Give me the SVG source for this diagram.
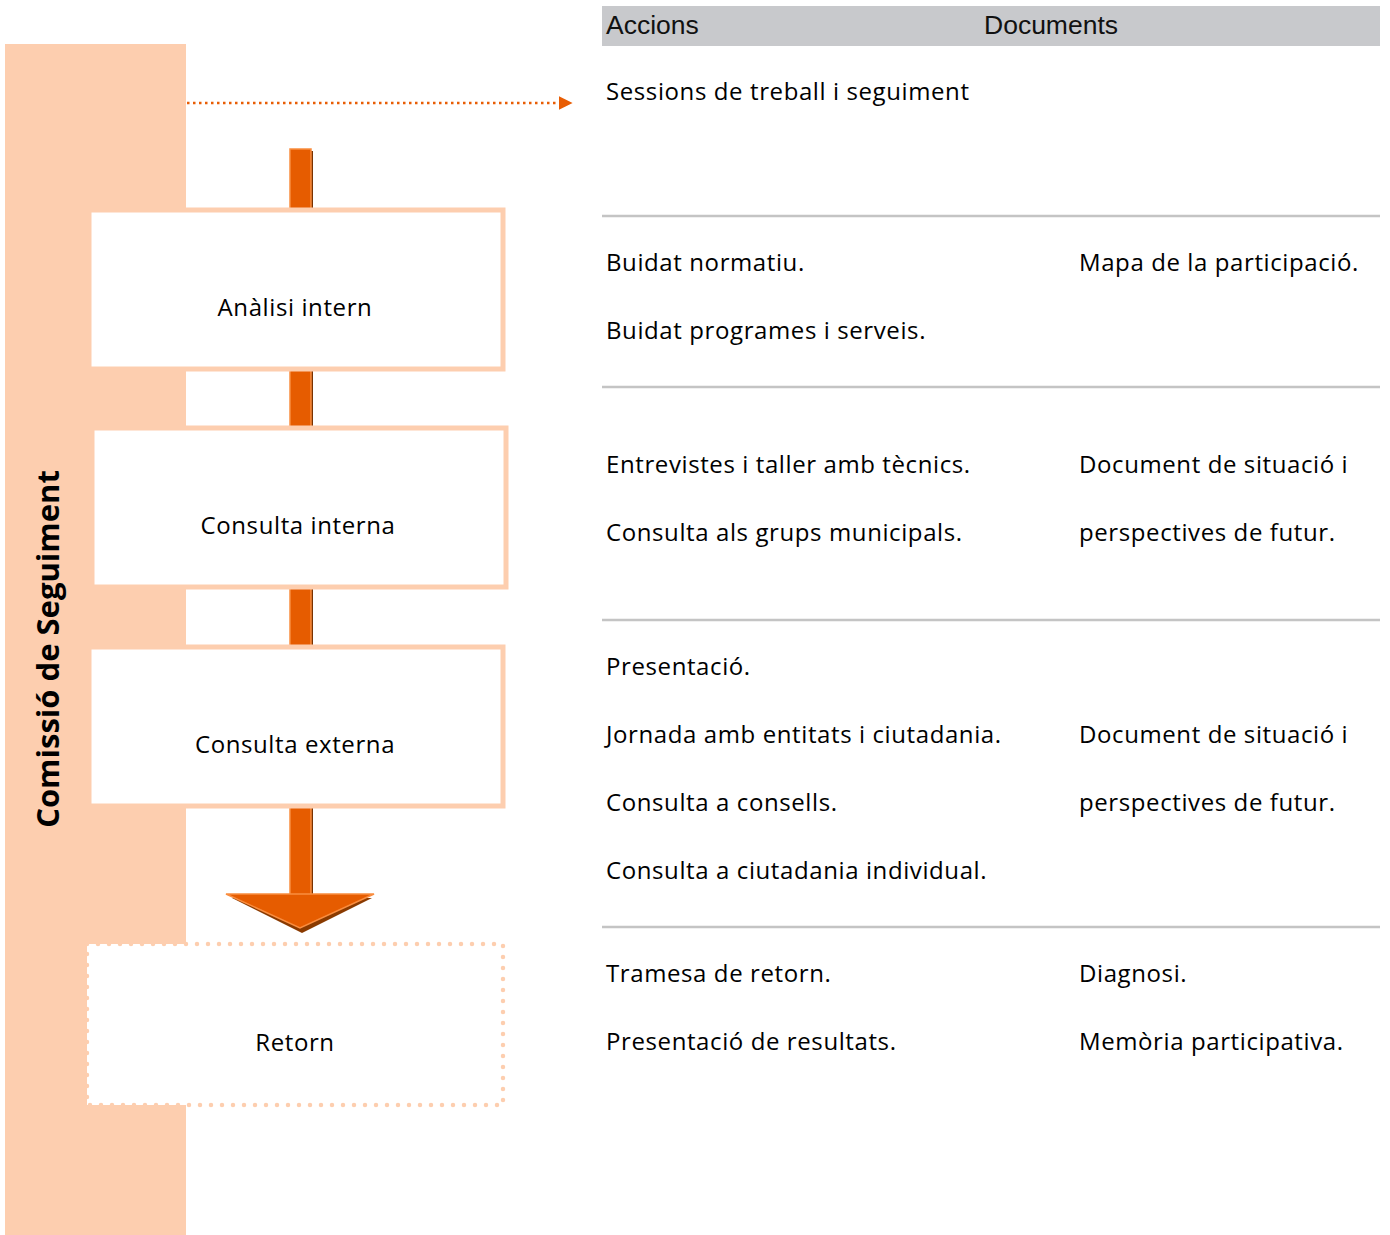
<svg xmlns="http://www.w3.org/2000/svg" width="1390" height="1235" viewBox="0 0 1390 1235">
<style>
.t{font-family:"Open Sans","Liberation Sans",sans-serif;font-size:24px;letter-spacing:0.6px;fill:#000}
.c{text-anchor:middle}
.h{font-family:"Liberation Sans","DejaVu Sans",sans-serif;font-size:26.5px;fill:#111;font-weight:300}
.box{fill:#fff;stroke:#FDCEAF;stroke-width:5}
.sep{stroke:#C4C4C4;stroke-width:2.5}
</style>
<defs>
<marker id="ah" viewBox="0 0 10 10" refX="1" refY="5" markerWidth="14" markerHeight="14" markerUnits="userSpaceOnUse" orient="auto">
<path d="M0,0 L10,5 L0,10 z" fill="#E85D04"/>
</marker>
</defs>
<rect width="1390" height="1235" fill="#fff"/>
<g id="commissio">
<rect x="5" y="44" width="181" height="1191" fill="#FDCEAF"/>
<text transform="translate(59,649) rotate(-90)" text-anchor="middle" style="font-family:'Open Sans','Liberation Sans',sans-serif;font-size:31px;font-weight:bold" fill="#000">Comissió de Seguiment</text>
</g>
<g id="connectors">
<line x1="187" y1="103" x2="560" y2="103" stroke="#E85D04" stroke-width="2.5" stroke-dasharray="2.5 3.5" marker-end="url(#ah)"/>
<g id="flow-arrow">
<rect x="292" y="151" width="21" height="744" fill="#7A3200"/>
<polygon points="232,898 372,898 302,933" fill="#8A3A00"/>
<rect x="290" y="149" width="21" height="746" fill="#E65C00" stroke="#F98D3F" stroke-width="1.5"/>
<polygon points="226,894 374,894 300,928" fill="#E65C00" stroke="#F98D3F" stroke-width="1.5" stroke-linejoin="miter"/>
</g>
</g>
<g id="analisi-intern">
<rect class="box" x="89" y="210" width="414" height="159"/>
<text class="t c" x="295" y="316">Anàlisi intern</text>
</g>
<g id="consulta-interna">
<rect class="box" x="92" y="428" width="414" height="159"/>
<text class="t c" x="298" y="534">Consulta interna</text>
</g>
<g id="consulta-externa">
<rect class="box" x="89" y="647" width="414" height="159"/>
<text class="t c" x="295" y="753">Consulta externa</text>
</g>
<g id="retorn">
<rect x="87" y="944" width="416" height="161" fill="#fff" stroke="#FDCEAF" stroke-width="4.5" stroke-dasharray="0 11" stroke-linecap="round"/>
<text class="t c" x="295" y="1051">Retorn</text>
</g>
<g id="table">
<rect x="602" y="6" width="778" height="40" fill="#C8C9CC"/>
<text class="h" x="606" y="34">Accions</text>
<text class="h" x="984" y="34">Documents</text>
<line class="sep" x1="602" y1="216" x2="1380" y2="216"/>
<line class="sep" x1="602" y1="387" x2="1380" y2="387"/>
<line class="sep" x1="602" y1="620" x2="1380" y2="620"/>
<line class="sep" x1="602" y1="927" x2="1380" y2="927"/>
<text class="t" x="606" y="100">Sessions de treball i seguiment</text>
<text class="t" x="606" y="271">Buidat normatiu.</text>
<text class="t" x="1079" y="271">Mapa de la participació.</text>
<text class="t" x="606" y="339">Buidat programes i serveis.</text>
<text class="t" x="606" y="473">Entrevistes i taller amb tècnics.</text>
<text class="t" x="1079" y="473">Document de situació i</text>
<text class="t" x="606" y="541">Consulta als grups municipals.</text>
<text class="t" x="1079" y="541">perspectives de futur.</text>
<text class="t" x="606" y="675">Presentació.</text>
<text class="t" x="606" y="743">Jornada amb entitats i ciutadania.</text>
<text class="t" x="1079" y="743">Document de situació i</text>
<text class="t" x="606" y="811">Consulta a consells.</text>
<text class="t" x="1079" y="811">perspectives de futur.</text>
<text class="t" x="606" y="879">Consulta a ciutadania individual.</text>
<text class="t" x="606" y="982">Tramesa de retorn.</text>
<text class="t" x="1079" y="982">Diagnosi.</text>
<text class="t" x="606" y="1050">Presentació de resultats.</text>
<text class="t" x="1079" y="1050">Memòria participativa.</text>
</g>
</svg>
